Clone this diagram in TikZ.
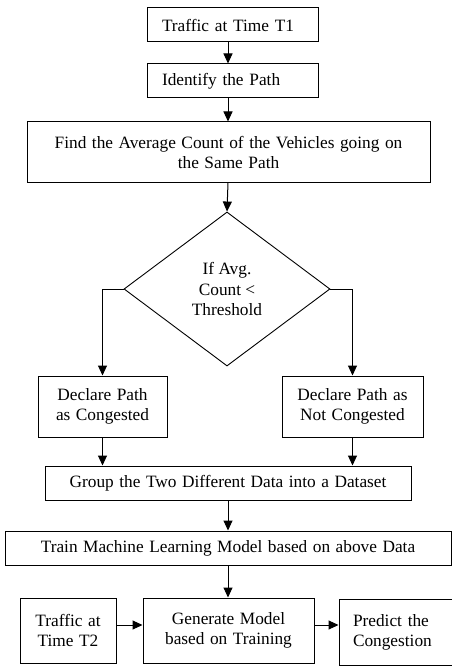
\documentclass[tikz,border=0pt]{standalone}
\usepackage{fontspec}
\setmainfont{Liberation Serif}
\usetikzlibrary{arrows.meta,shapes.geometric,calc}
\newcommand{\boxfont}{\fontsize{17.3}{20}\selectfont\spaceskip=0.32em plus 0.1em minus 0.05em\relax}
\begin{document}
\begin{tikzpicture}[x=1pt,y=-1pt,
  box/.style={draw, line width=1pt, inner sep=0pt, align=center, font=\boxfont},
  lbox/.style={box, align=left, inner xsep=15pt},
  arr/.style={line width=1pt, -{Triangle[length=10pt,width=9pt]}}]
\useasboundingbox (0,0) rectangle (452,666);
\fill[white] (0,0) rectangle (452,666);
\coordinate (axis) at (228,0);
\node[lbox, text width=141pt, minimum height=34pt] (t1) at (232.5,25) {Traffic at Time T1};
\node[lbox, text width=141pt, minimum height=34pt] (id) at (232.5,81) {Identify the Path};
\node[box, minimum width=403pt, minimum height=60pt] (avg) at (228.5,152) {Find the Average Count of the Vehicles going on\\the Same Path};
\node[draw, diamond, line width=0.9pt, minimum width=206pt, minimum height=154pt, aspect=1.34, inner sep=0pt, align=center, font=\fontsize{17.3}{20.5}\selectfont] (d) at (227,289) {If Avg.\\Count <\\Threshold};
\node[box, minimum width=129pt, minimum height=61pt] (lb) at (102.5,406.5) {Declare Path\\as Congested};
\node[box, minimum width=141pt, minimum height=61pt] (rb) at (352.5,406.5) {Declare Path as\\Not Congested};
\node[box, minimum width=366pt, minimum height=34pt] (grp) at (228,483) {Group the Two Different Data into a Dataset};
\node[box, minimum width=446pt, minimum height=34pt] (train) at (228,548) {Train Machine Learning Model based on above Data};
\node[box, minimum width=96pt, minimum height=65pt] (t2) at (68,630.5) {Traffic at\\Time T2};
\node[box, minimum width=171pt, minimum height=65pt] (gen) at (228.5,630.5) {Generate Model\\based on Training};
\node[lbox, inner xsep=14pt, text width=103pt, minimum height=66pt] (pred) at (404.5,632) {Predict the\\Congestion};
\draw[arr] (t1.south -| axis) -- (id.north -| axis);
\draw[arr] (id.south -| axis) -- (avg.north -| axis);
\draw[arr] (avg.south -| axis) -- (d.north);
\draw[arr] (d.west) -| (lb.north);
\draw[arr] (d.east) -| (rb.north);
\draw[arr] (lb.south) -- (lb.south |- grp.north);
\draw[arr] (rb.south) -- (rb.south |- grp.north);
\draw[arr] (grp.south -| axis) -- (train.north -| axis);
\draw[arr] (train.south -| axis) -- (gen.north -| axis);
\draw[arr] (t2.east |- 0,625) -- (gen.west |- 0,625);
\draw[arr] (gen.east |- 0,625) -- (pred.west |- 0,625);
\end{tikzpicture}
\end{document}
